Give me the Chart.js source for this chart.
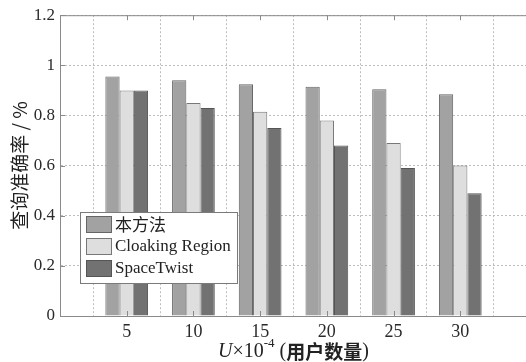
<!DOCTYPE html>
<html>
<head>
<meta charset="utf-8">
<script src="https://cdn.jsdelivr.net/npm/chart.js@4/dist/chart.umd.min.js"></script>
<style>
  html, body { margin: 0; padding: 0; background: #fff; overflow: hidden; }
  #wrap { width: 532px; height: 362px; }
</style>
</head>
<body>
<div id="wrap"><canvas id="c" width="532" height="362"></canvas></div>
<script>
// Number of users (×10^4) on the x axis
const userCounts = ['5', '10', '15', '20', '25', '30'];
// Query accuracy for each method
const ourMethod   = [0.955, 0.94, 0.925, 0.915, 0.905, 0.885];
const cloakingRgn = [0.90, 0.85, 0.815, 0.78, 0.69, 0.60];
const spaceTwist  = [0.90, 0.83, 0.75, 0.68, 0.59, 0.49];
const seriesNames = ['本方法', 'Cloaking Region', 'SpaceTwist'];
const yTicks = [0, 0.2, 0.4, 0.6, 0.8, 1, 1.2];

const SERIF = '"Liberation Serif", "DejaVu Serif", serif';
const CJK = '"Noto Sans CJK SC", sans-serif';

// the x axis runs from 0 to 7 group slots, with empty slots at both ends
const pad = arr => [null, ...arr, null];
const labels = ['', ...userCounts, ''];

const fills = ['#a2a2a2', '#dedede', '#727272'];
const edges = ['#666666', '#777777', '#555555'];

// frame, inner tick marks, legend box and axis titles
const decor = {
  id: 'decor',
  afterDatasetsDraw(chart) {
    const { ctx, chartArea: a, scales: { x, y } } = chart;
    ctx.save();
    ctx.strokeStyle = '#8a8a8a';
    ctx.lineWidth = 1;
    ctx.beginPath();
    ctx.moveTo(a.left, a.top + 0.5);
    ctx.lineTo(a.right, a.top + 0.5);
    ctx.stroke();
    // inner tick marks
    ctx.beginPath();
    for (let i = 1; i <= userCounts.length; i++) {
      const px = Math.round(x.getPixelForValue(i)) + 0.5;
      ctx.moveTo(px, a.top); ctx.lineTo(px, a.top + 5);
      ctx.moveTo(px, a.bottom); ctx.lineTo(px, a.bottom - 5);
    }
    yTicks.forEach(v => {
      const py = Math.round(y.getPixelForValue(v)) + 0.5;
      ctx.moveTo(a.left, py); ctx.lineTo(a.left + 5, py);
    });
    ctx.stroke();

    // legend
    const lx = 80.5, ly = 212.5, lw = 157, lh = 71;
    ctx.fillStyle = '#fff';
    ctx.fillRect(lx, ly, lw, lh);
    ctx.strokeStyle = '#7a7a7a';
    ctx.strokeRect(lx, ly, lw, lh);
    chart.data.datasets.forEach((ds, i) => {
      const sy = 216.5 + i * 22;
      ctx.fillStyle = ds.backgroundColor;
      ctx.fillRect(86.5, sy, 25, 16);
      ctx.strokeStyle = ds.borderColor;
      ctx.strokeRect(86.5, sy, 25, 16);
      ctx.fillStyle = '#222';
      ctx.textBaseline = 'middle';
      ctx.textAlign = 'left';
      ctx.font = (i === 0 ? '17px ' + CJK : '17px ' + SERIF);
      ctx.fillText(ds.label, 115, sy + 8.5);
    });

    // x axis title: U×10^-4 (用户数量)
    const parts = [
      { t: 'U', f: 'italic 20px ' + SERIF, dy: 0 },
      { t: '×10', f: '20px ' + SERIF, dy: 0 },
      { t: '-4', f: '13px ' + SERIF, dy: -8 },
      { t: ' (', f: '20px ' + SERIF, dy: 0 },
      { t: '用户数量', f: 'bold 19px ' + CJK, dy: 0 },
      { t: ')', f: '20px ' + SERIF, dy: 0 }
    ];
    let total = 0;
    parts.forEach(p => { ctx.font = p.f; p.w = ctx.measureText(p.t).width; total += p.w; });
    let cx = (a.left + a.right) / 2 - total / 2;
    const by = 352;
    ctx.fillStyle = '#222';
    ctx.textAlign = 'left';
    ctx.textBaseline = 'middle';
    parts.forEach(p => { ctx.font = p.f; ctx.fillText(p.t, cx, by + p.dy); cx += p.w; });

    // y axis title
    ctx.translate(20, (a.top + a.bottom) / 2);
    ctx.rotate(-Math.PI / 2);
    ctx.textAlign = 'center';
    ctx.font = '19px ' + CJK;
    ctx.fillText('查询准确率 / %', 0, 0);
    ctx.restore();
  }
};

new Chart(document.getElementById('c'), {
  type: 'bar',
  data: {
    labels,
    datasets: [ourMethod, cloakingRgn, spaceTwist].map((d, i) => ({
      label: seriesNames[i],
      data: pad(d),
      backgroundColor: fills[i],
      borderColor: edges[i],
      borderWidth: 1,
      categoryPercentage: 0.64,
      barPercentage: 1.0
    }))
  },
  options: {
    responsive: false,
    animation: false,
    events: [],
    layout: { padding: { top: 15, right: 3, left: 0, bottom: 0 } },
    plugins: { legend: { display: false }, tooltip: { enabled: false } },
    scales: {
      x: {
        offset: false,
        grid: { color: '#bdbdbd', drawTicks: false, lineWidth: 1 },
        border: { color: '#8a8a8a', dash: [2, 2] },
        ticks: { font: { family: SERIF, size: 18 }, color: '#2a2a2a', padding: 5, maxRotation: 0, autoSkip: false },
        afterFit(s) { s.height = 46; }
      },
      y: {
        min: 0, max: 1.2,
        afterBuildTicks(s) { s.ticks = yTicks.map(v => ({ value: v })); },
        grid: { color: '#bdbdbd', drawTicks: false, lineWidth: 1 },
        border: { color: '#8a8a8a', dash: [2, 2] },
        ticks: {
          font: { family: SERIF, size: 17 }, color: '#2a2a2a', padding: 5,
          callback: v => String(+v.toFixed(1))
        },
        afterFit(s) { s.width = 60; }
      }
    }
  },
  plugins: [decor]
});
</script>
</body>
</html>
